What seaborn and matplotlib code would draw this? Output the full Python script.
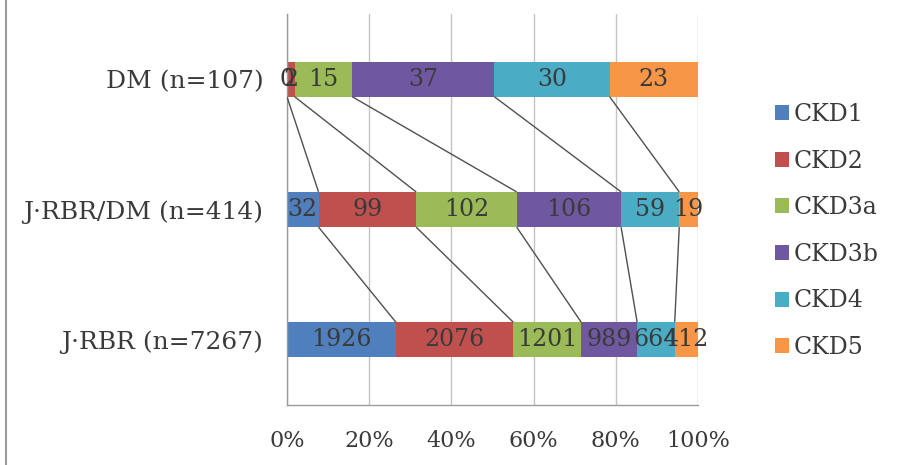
import numpy as np
import pandas as pd
import seaborn as sns
import matplotlib
matplotlib.use("Agg")
import matplotlib.pyplot as plt
from matplotlib.patches import Patch
from matplotlib.lines import Line2D
from matplotlib.ticker import PercentFormatter

# Patient counts per CKD stage in each cohort
groups = ["DM (n=107)", "J·RBR/DM (n=414)", "J·RBR (n=7267)"]
stages = ["CKD1", "CKD2", "CKD3a", "CKD3b", "CKD4", "CKD5"]
ckd1 = [0, 32, 1926]
ckd2 = [2, 99, 2076]
ckd3a = [15, 102, 1201]
ckd3b = [37, 106, 989]
ckd4 = [30, 59, 664]
ckd5 = [23, 19, 412]
colors = ["#4f7fbc", "#c0504d", "#9bbb59", "#7058a0", "#4bacc6", "#f79646"]

counts = np.array([ckd1, ckd2, ckd3a, ckd3b, ckd4, ckd5], dtype=float)  # stage x group
share = counts / counts.sum(axis=0)
cum = np.cumsum(share, axis=0)
start = cum - share

sns.set_theme(style="white")
plt.rcParams["font.family"] = ["DejaVu Serif"]
FS = 17
TXT = "#3a3a3a"

fig = plt.figure(figsize=(9.02, 4.65), dpi=100)
ax = fig.add_axes([287 / 902, 1 - 405 / 465, (698 - 287) / 902, (405 - 14) / 465])

BAR_H = 0.27
# Stacked 100% bars: draw cumulative totals from the last stage down to the first
for i in range(len(stages) - 1, -1, -1):
    df = pd.DataFrame({"group": groups, "value": cum[i]})
    sns.barplot(data=df, x="value", y="group", orient="h", color=colors[i],
                width=BAR_H, saturation=1, ax=ax, linewidth=0, zorder=2)

# Segment value labels
for i in range(len(stages)):
    for g in range(len(groups)):
        xc = start[i, g] + share[i, g] / 2
        ax.text(xc, g, f"{int(counts[i, g])}", ha="center", va="center",
                fontsize=FS, color=TXT, zorder=4)

# Series lines joining segment boundaries between neighbouring bars
for g in range(len(groups) - 1):
    for i in range(len(stages) - 1):
        ax.plot([cum[i, g], cum[i, g + 1]],
                [g + BAR_H / 2, g + 1 - BAR_H / 2],
                color="#505050", lw=1.0, zorder=3, solid_capstyle="butt")

ax.set_xlim(0, 1)
ax.set_ylim(2.5, -0.5)
ax.set_xticks(np.linspace(0, 1, 6))
ax.xaxis.set_major_formatter(PercentFormatter(1.0, decimals=0))
ax.grid(axis="x", color="#c4c4c4", lw=1.0)
ax.grid(axis="y", visible=False)
ax.set_axisbelow(True)
ax.set_xlabel("")
ax.set_ylabel("")

for side in ["top", "right"]:
    ax.spines[side].set_visible(False)
for side in ["left", "bottom"]:
    ax.spines[side].set_color("#9a9a9a")
    ax.spines[side].set_linewidth(1.0)

ax.tick_params(axis="x", direction="out", length=9, width=1, color="#9a9a9a",
               pad=9, labelsize=16, labelcolor=TXT)
ax.tick_params(axis="y", length=0, pad=17, labelsize=18, labelcolor=TXT)

handles = [Patch(facecolor=c, edgecolor="none", label=s) for c, s in zip(colors, stages)]
fig.legend(handles=handles, loc="center left", bbox_to_anchor=(775 / 902, 1 - 231 / 465),
           frameon=False, fontsize=FS, labelcolor=TXT, handlelength=0.6, handleheight=0.6,
           handletextpad=0.2, labelspacing=1.0, borderaxespad=0, borderpad=0)

# Outer chart frame edge on the left
fig.add_artist(Line2D([6 / 902, 6 / 902], [0, 1], transform=fig.transFigure,
                      color="#9a9a9a", lw=1.5))

fig.savefig("out.png", dpi=100, facecolor="white")
